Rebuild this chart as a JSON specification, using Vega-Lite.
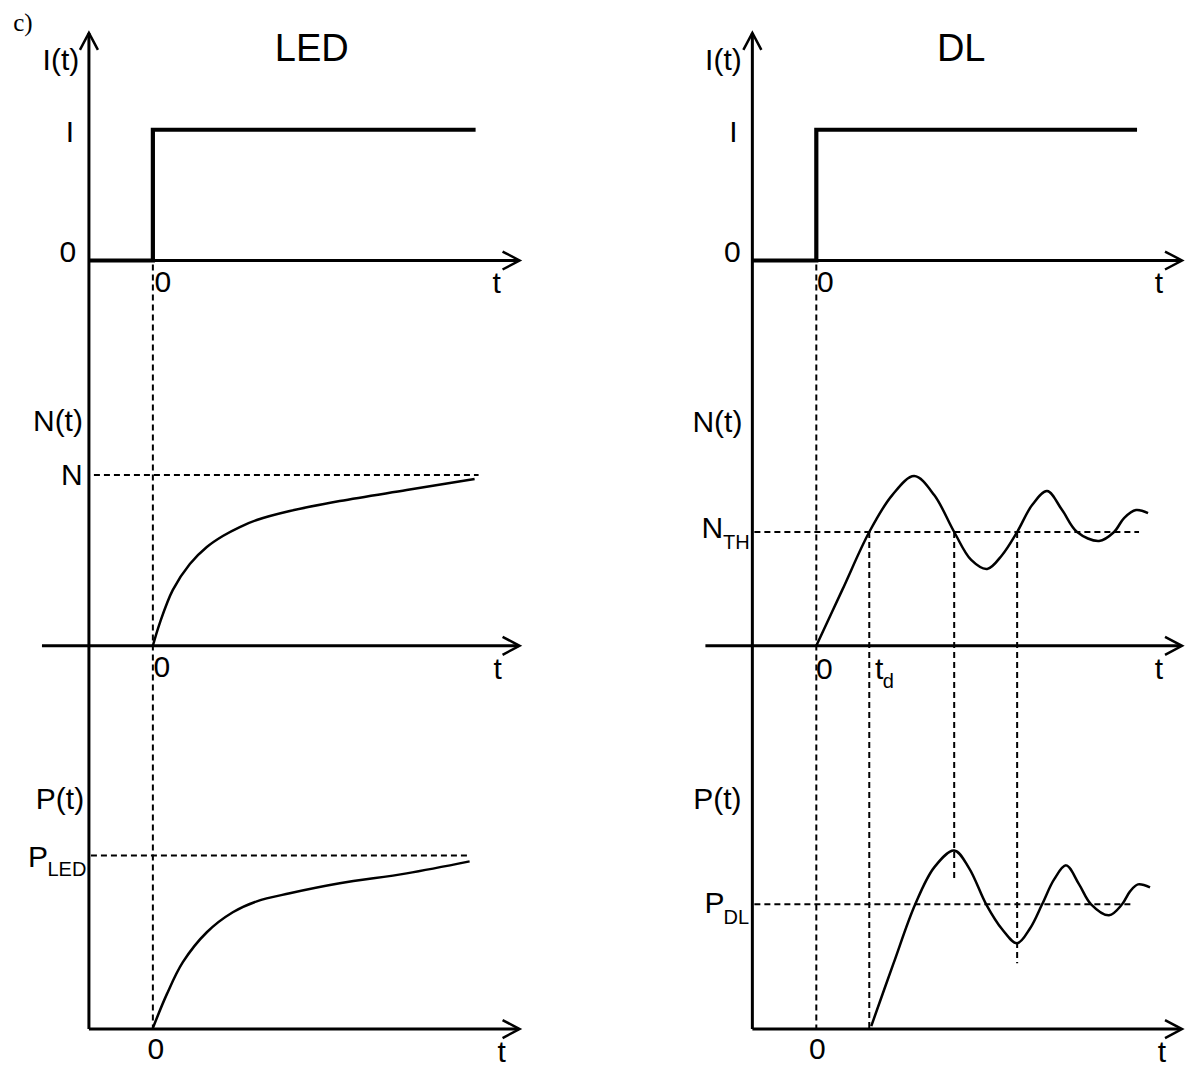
{
  "$schema": "https://vega.github.io/schema/vega-lite/v6.json",
  "width": 1187,
  "height": 1068,
  "autosize": {"type": "fit", "contains": "padding"},
  "padding": 0,
  "background": "white",
  "config": {"view": {"stroke": null}},
  "datasets": {
    "paths": [
      {"path": "yL", "kind": "axis", "i": 0, "x": 89, "y": 33},
      {"path": "yL", "kind": "axis", "i": 1, "x": 89, "y": 1031},
      {"path": "xL1", "kind": "axis", "i": 0, "x": 89, "y": 261},
      {"path": "xL1", "kind": "axis", "i": 1, "x": 519, "y": 261},
      {"path": "xL2", "kind": "axis", "i": 0, "x": 42, "y": 647},
      {"path": "xL2", "kind": "axis", "i": 1, "x": 519, "y": 647},
      {"path": "xL3", "kind": "axis", "i": 0, "x": 89, "y": 1031},
      {"path": "xL3", "kind": "axis", "i": 1, "x": 519, "y": 1031},
      {"path": "yR", "kind": "axis", "i": 0, "x": 753, "y": 33},
      {"path": "yR", "kind": "axis", "i": 1, "x": 753, "y": 1031},
      {"path": "xR1", "kind": "axis", "i": 0, "x": 753, "y": 261},
      {"path": "xR1", "kind": "axis", "i": 1, "x": 1182, "y": 261},
      {"path": "xR2", "kind": "axis", "i": 0, "x": 706, "y": 647},
      {"path": "xR2", "kind": "axis", "i": 1, "x": 1182, "y": 647},
      {"path": "xR3", "kind": "axis", "i": 0, "x": 753, "y": 1031},
      {"path": "xR3", "kind": "axis", "i": 1, "x": 1182, "y": 1031},

      {"path": "ayL", "kind": "arrow", "i": 0, "x": 80, "y": 50},
      {"path": "ayL", "kind": "arrow", "i": 1, "x": 89, "y": 33},
      {"path": "ayL", "kind": "arrow", "i": 2, "x": 98, "y": 50},
      {"path": "ayR", "kind": "arrow", "i": 0, "x": 744, "y": 50},
      {"path": "ayR", "kind": "arrow", "i": 1, "x": 753, "y": 33},
      {"path": "ayR", "kind": "arrow", "i": 2, "x": 762, "y": 50},
      {"path": "axL1", "kind": "arrow", "i": 0, "x": 503, "y": 252},
      {"path": "axL1", "kind": "arrow", "i": 1, "x": 520, "y": 261},
      {"path": "axL1", "kind": "arrow", "i": 2, "x": 503, "y": 270},
      {"path": "axL2", "kind": "arrow", "i": 0, "x": 503, "y": 638},
      {"path": "axL2", "kind": "arrow", "i": 1, "x": 520, "y": 647},
      {"path": "axL2", "kind": "arrow", "i": 2, "x": 503, "y": 656},
      {"path": "axL3", "kind": "arrow", "i": 0, "x": 503, "y": 1022},
      {"path": "axL3", "kind": "arrow", "i": 1, "x": 520, "y": 1031},
      {"path": "axL3", "kind": "arrow", "i": 2, "x": 503, "y": 1040},
      {"path": "axR1", "kind": "arrow", "i": 0, "x": 1166, "y": 252},
      {"path": "axR1", "kind": "arrow", "i": 1, "x": 1183, "y": 261},
      {"path": "axR1", "kind": "arrow", "i": 2, "x": 1166, "y": 270},
      {"path": "axR2", "kind": "arrow", "i": 0, "x": 1166, "y": 638},
      {"path": "axR2", "kind": "arrow", "i": 1, "x": 1183, "y": 647},
      {"path": "axR2", "kind": "arrow", "i": 2, "x": 1166, "y": 656},
      {"path": "axR3", "kind": "arrow", "i": 0, "x": 1166, "y": 1022},
      {"path": "axR3", "kind": "arrow", "i": 1, "x": 1183, "y": 1031},
      {"path": "axR3", "kind": "arrow", "i": 2, "x": 1166, "y": 1040},

      {"path": "stepL", "kind": "step", "i": 0, "x": 89, "y": 261},
      {"path": "stepL", "kind": "step", "i": 1, "x": 153, "y": 261},
      {"path": "stepL", "kind": "step", "i": 2, "x": 153, "y": 130},
      {"path": "stepL", "kind": "step", "i": 3, "x": 476, "y": 130},
      {"path": "stepR", "kind": "step", "i": 0, "x": 753, "y": 261},
      {"path": "stepR", "kind": "step", "i": 1, "x": 817, "y": 261},
      {"path": "stepR", "kind": "step", "i": 2, "x": 817, "y": 130},
      {"path": "stepR", "kind": "step", "i": 3, "x": 1138, "y": 130},

      {"path": "g1", "kind": "guide", "i": 0, "x": 153, "y": 265},
      {"path": "g1", "kind": "guide", "i": 1, "x": 153, "y": 1030},
      {"path": "g2", "kind": "guide", "i": 0, "x": 94, "y": 476},
      {"path": "g2", "kind": "guide", "i": 1, "x": 479, "y": 476},
      {"path": "g3", "kind": "guide", "i": 0, "x": 91, "y": 857},
      {"path": "g3", "kind": "guide", "i": 1, "x": 469, "y": 857},
      {"path": "g4", "kind": "guide", "i": 0, "x": 817, "y": 265},
      {"path": "g4", "kind": "guide", "i": 1, "x": 817, "y": 1030},
      {"path": "g5", "kind": "guide", "i": 0, "x": 755, "y": 533},
      {"path": "g5", "kind": "guide", "i": 1, "x": 1140, "y": 533},
      {"path": "g6", "kind": "guide", "i": 0, "x": 755, "y": 906},
      {"path": "g6", "kind": "guide", "i": 1, "x": 1132, "y": 906},
      {"path": "g7", "kind": "guide", "i": 0, "x": 870, "y": 533},
      {"path": "g7", "kind": "guide", "i": 1, "x": 870, "y": 1030},
      {"path": "g8", "kind": "guide", "i": 0, "x": 955, "y": 533},
      {"path": "g8", "kind": "guide", "i": 1, "x": 955, "y": 880},
      {"path": "g9", "kind": "guide", "i": 0, "x": 1018, "y": 533},
      {"path": "g9", "kind": "guide", "i": 1, "x": 1018, "y": 965},

      {"path": "nLED", "kind": "curve", "i": 0, "x": 153, "y": 647},
      {"path": "nLED", "kind": "curve", "i": 1, "x": 160, "y": 624},
      {"path": "nLED", "kind": "curve", "i": 2, "x": 173, "y": 591},
      {"path": "nLED", "kind": "curve", "i": 3, "x": 190, "y": 565},
      {"path": "nLED", "kind": "curve", "i": 4, "x": 207, "y": 548},
      {"path": "nLED", "kind": "curve", "i": 5, "x": 223, "y": 537},
      {"path": "nLED", "kind": "curve", "i": 6, "x": 240, "y": 528},
      {"path": "nLED", "kind": "curve", "i": 7, "x": 257, "y": 521},
      {"path": "nLED", "kind": "curve", "i": 8, "x": 290, "y": 512},
      {"path": "nLED", "kind": "curve", "i": 9, "x": 340, "y": 502},
      {"path": "nLED", "kind": "curve", "i": 10, "x": 407, "y": 491},
      {"path": "nLED", "kind": "curve", "i": 11, "x": 475, "y": 480},

      {"path": "pLED", "kind": "curve", "i": 0, "x": 153, "y": 1030},
      {"path": "pLED", "kind": "curve", "i": 1, "x": 167, "y": 996},
      {"path": "pLED", "kind": "curve", "i": 2, "x": 183, "y": 964},
      {"path": "pLED", "kind": "curve", "i": 3, "x": 207, "y": 934},
      {"path": "pLED", "kind": "curve", "i": 4, "x": 233, "y": 914},
      {"path": "pLED", "kind": "curve", "i": 5, "x": 257, "y": 903},
      {"path": "pLED", "kind": "curve", "i": 6, "x": 290, "y": 895},
      {"path": "pLED", "kind": "curve", "i": 7, "x": 340, "y": 885},
      {"path": "pLED", "kind": "curve", "i": 8, "x": 407, "y": 875},
      {"path": "pLED", "kind": "curve", "i": 9, "x": 470, "y": 863},

      {"path": "nDL", "kind": "curve", "i": 0, "x": 817, "y": 647},
      {"path": "nDL", "kind": "curve", "i": 1, "x": 843, "y": 591},
      {"path": "nDL", "kind": "curve", "i": 2, "x": 870, "y": 533},
      {"path": "nDL", "kind": "curve", "i": 3, "x": 893, "y": 496},
      {"path": "nDL", "kind": "curve", "i": 4, "x": 915, "y": 477},
      {"path": "nDL", "kind": "curve", "i": 5, "x": 935, "y": 496},
      {"path": "nDL", "kind": "curve", "i": 6, "x": 955, "y": 533},
      {"path": "nDL", "kind": "curve", "i": 7, "x": 972, "y": 561},
      {"path": "nDL", "kind": "curve", "i": 8, "x": 988, "y": 570},
      {"path": "nDL", "kind": "curve", "i": 9, "x": 1003, "y": 556},
      {"path": "nDL", "kind": "curve", "i": 10, "x": 1018, "y": 533},
      {"path": "nDL", "kind": "curve", "i": 11, "x": 1033, "y": 506},
      {"path": "nDL", "kind": "curve", "i": 12, "x": 1048, "y": 492},
      {"path": "nDL", "kind": "curve", "i": 13, "x": 1063, "y": 511},
      {"path": "nDL", "kind": "curve", "i": 14, "x": 1078, "y": 533},
      {"path": "nDL", "kind": "curve", "i": 15, "x": 1100, "y": 542},
      {"path": "nDL", "kind": "curve", "i": 16, "x": 1115, "y": 533},
      {"path": "nDL", "kind": "curve", "i": 17, "x": 1125, "y": 519},
      {"path": "nDL", "kind": "curve", "i": 18, "x": 1137, "y": 511},
      {"path": "nDL", "kind": "curve", "i": 19, "x": 1149, "y": 514},

      {"path": "pDL", "kind": "curve", "i": 0, "x": 872, "y": 1028},
      {"path": "pDL", "kind": "curve", "i": 1, "x": 894, "y": 966},
      {"path": "pDL", "kind": "curve", "i": 2, "x": 916, "y": 906},
      {"path": "pDL", "kind": "curve", "i": 3, "x": 935, "y": 869},
      {"path": "pDL", "kind": "curve", "i": 4, "x": 955, "y": 852},
      {"path": "pDL", "kind": "curve", "i": 5, "x": 970, "y": 870},
      {"path": "pDL", "kind": "curve", "i": 6, "x": 987, "y": 906},
      {"path": "pDL", "kind": "curve", "i": 7, "x": 1003, "y": 931},
      {"path": "pDL", "kind": "curve", "i": 8, "x": 1018, "y": 945},
      {"path": "pDL", "kind": "curve", "i": 9, "x": 1031, "y": 930},
      {"path": "pDL", "kind": "curve", "i": 10, "x": 1043, "y": 906},
      {"path": "pDL", "kind": "curve", "i": 11, "x": 1055, "y": 881},
      {"path": "pDL", "kind": "curve", "i": 12, "x": 1067, "y": 867},
      {"path": "pDL", "kind": "curve", "i": 13, "x": 1080, "y": 886},
      {"path": "pDL", "kind": "curve", "i": 14, "x": 1092, "y": 906},
      {"path": "pDL", "kind": "curve", "i": 15, "x": 1110, "y": 917},
      {"path": "pDL", "kind": "curve", "i": 16, "x": 1123, "y": 906},
      {"path": "pDL", "kind": "curve", "i": 17, "x": 1131, "y": 893},
      {"path": "pDL", "kind": "curve", "i": 18, "x": 1139, "y": 886},
      {"path": "pDL", "kind": "curve", "i": 19, "x": 1151, "y": 889}
    ],
    "labels": [
      {"text": "c)", "kind": "serif", "x": 23, "y": 23},
      {"text": "LED", "kind": "title", "x": 312, "y": 50},
      {"text": "DL", "kind": "title", "x": 962, "y": 50},
      {"text": "I(t)", "kind": "label", "x": 61, "y": 61},
      {"text": "I", "kind": "label", "x": 70, "y": 133},
      {"text": "0", "kind": "label", "x": 68, "y": 253},
      {"text": "0", "kind": "label", "x": 163, "y": 284},
      {"text": "t", "kind": "label", "x": 497, "y": 285},
      {"text": "N(t)", "kind": "label", "x": 58, "y": 423},
      {"text": "N", "kind": "label", "x": 72, "y": 477},
      {"text": "0", "kind": "label", "x": 162, "y": 669},
      {"text": "t", "kind": "label", "x": 498, "y": 671},
      {"text": "P(t)", "kind": "label", "x": 60, "y": 802},
      {"text": "P", "kind": "label", "x": 38, "y": 860},
      {"text": "LED", "kind": "sub", "x": 67, "y": 872},
      {"text": "0", "kind": "label", "x": 156, "y": 1052},
      {"text": "t", "kind": "label", "x": 502, "y": 1055},
      {"text": "I(t)", "kind": "label", "x": 724, "y": 61},
      {"text": "I", "kind": "label", "x": 734, "y": 133},
      {"text": "0", "kind": "label", "x": 733, "y": 253},
      {"text": "0", "kind": "label", "x": 826, "y": 284},
      {"text": "t", "kind": "label", "x": 1160, "y": 285},
      {"text": "N(t)", "kind": "label", "x": 718, "y": 424},
      {"text": "N", "kind": "label", "x": 713, "y": 530},
      {"text": "TH", "kind": "sub", "x": 737, "y": 544},
      {"text": "0", "kind": "label", "x": 825, "y": 671},
      {"text": "t", "kind": "label", "x": 880, "y": 671},
      {"text": "d", "kind": "sub", "x": 889, "y": 683},
      {"text": "t", "kind": "label", "x": 1160, "y": 671},
      {"text": "P(t)", "kind": "label", "x": 718, "y": 802},
      {"text": "P", "kind": "label", "x": 715, "y": 906},
      {"text": "DL", "kind": "sub", "x": 737, "y": 920},
      {"text": "0", "kind": "label", "x": 818, "y": 1052},
      {"text": "t", "kind": "label", "x": 1163, "y": 1055}
    ]
  },
  "encoding": {
    "x": {"field": "x", "type": "quantitative", "scale": {"domain": [0, 1187], "nice": false, "zero": false}, "axis": null},
    "y": {"field": "y", "type": "quantitative", "scale": {"domain": [0, 1068], "nice": false, "zero": false, "reverse": true}, "axis": null}
  },
  "layer": [
    {
      "data": {"name": "paths"},
      "transform": [{"filter": "datum.kind == 'axis'"}],
      "mark": {"type": "line", "color": "black", "strokeWidth": 3},
      "encoding": {"detail": {"field": "path"}, "order": {"field": "i", "type": "quantitative"}}
    },
    {
      "data": {"name": "paths"},
      "transform": [{"filter": "datum.kind == 'arrow'"}],
      "mark": {"type": "line", "color": "black", "strokeWidth": 2.5, "strokeJoin": "miter"},
      "encoding": {"detail": {"field": "path"}, "order": {"field": "i", "type": "quantitative"}}
    },
    {
      "data": {"name": "paths"},
      "transform": [{"filter": "datum.kind == 'step'"}],
      "mark": {"type": "line", "color": "black", "strokeWidth": 4.2, "strokeJoin": "miter"},
      "encoding": {"detail": {"field": "path"}, "order": {"field": "i", "type": "quantitative"}}
    },
    {
      "data": {"name": "paths"},
      "transform": [{"filter": "datum.kind == 'guide'"}],
      "mark": {"type": "line", "color": "black", "strokeWidth": 2, "strokeDash": [6, 4]},
      "encoding": {"detail": {"field": "path"}, "order": {"field": "i", "type": "quantitative"}}
    },
    {
      "data": {"name": "paths"},
      "transform": [{"filter": "datum.kind == 'curve'"}],
      "mark": {"type": "line", "color": "black", "strokeWidth": 2.5, "interpolate": "catmull-rom"},
      "encoding": {"detail": {"field": "path"}, "order": {"field": "i", "type": "quantitative"}}
    },
    {
      "data": {"name": "labels"},
      "transform": [{"filter": "datum.kind == 'label'"}],
      "mark": {"type": "text", "font": "Liberation Sans", "fontSize": 30, "align": "center", "baseline": "middle", "color": "black"},
      "encoding": {"text": {"field": "text"}}
    },
    {
      "data": {"name": "labels"},
      "transform": [{"filter": "datum.kind == 'sub'"}],
      "mark": {"type": "text", "font": "Liberation Sans", "fontSize": 20, "align": "center", "baseline": "middle", "color": "black"},
      "encoding": {"text": {"field": "text"}}
    },
    {
      "data": {"name": "labels"},
      "transform": [{"filter": "datum.kind == 'title'"}],
      "mark": {"type": "text", "font": "Liberation Sans", "fontSize": 38, "align": "center", "baseline": "middle", "color": "black"},
      "encoding": {"text": {"field": "text"}}
    },
    {
      "data": {"name": "labels"},
      "transform": [{"filter": "datum.kind == 'serif'"}],
      "mark": {"type": "text", "font": "Liberation Serif", "fontSize": 25, "align": "center", "baseline": "middle", "color": "black"},
      "encoding": {"text": {"field": "text"}}
    }
  ]
}
